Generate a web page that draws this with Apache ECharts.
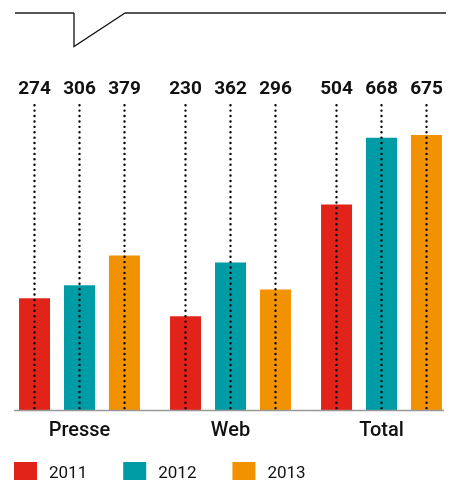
<!DOCTYPE html>
<html>
<head>
<meta charset="utf-8">
<script src="https://cdn.jsdelivr.net/npm/echarts@6/dist/echarts.min.js"></script>
<style>html,body{margin:0;padding:0;background:#fff;overflow:hidden;}#c{width:460px;height:480px;}</style>
</head>
<body>
<div id="c"></div>
<script>
var categories = ['Presse', 'Web', 'Total'];
var years = ['2011', '2012', '2013'];
var values2011 = [274, 230, 504];
var values2012 = [306, 362, 668];
var values2013 = [379, 296, 675];
var colors = ['#E2231A', '#009CA6', '#F39200'];

var allValues = [values2011, values2012, values2013];
var BAR_W = 31, BAR_STEP = 45;

var series = years.map(function (y, i) {
  return {
    name: y, type: 'bar', data: allValues[i], barWidth: BAR_W, barGap: '45%',
    itemStyle: { color: colors[i] }, silent: true, z: 2
  };
});

var labelData = [];
allValues.forEach(function (arr, yi) {
  arr.forEach(function (v, ci) { labelData.push([ci, v, yi]); });
});

series.push({
  type: 'custom', silent: true, z: 5,
  data: labelData,
  encode: { x: 0, y: 1 },
  renderItem: function (params, api) {
    var ci = api.value(0), yi = api.value(2), v = api.value(1);
    var base = api.coord([ci, 0]);
    var x = Math.round(base[0] + (yi - 1) * BAR_STEP - 1) + 0.5;
    var top = api.coord([ci, 748])[1];
    var ly = api.coord([ci, 788])[1];
    return {
      type: 'group',
      children: [
        { type: 'line', shape: { x1: x, y1: top, x2: x, y2: base[1] - 1 },
          style: { stroke: '#000', lineWidth: 2.4, lineDash: [0.01, 5.4], lineCap: 'round' } },
        { type: 'text', x: x, y: ly,
          style: { text: String(v), fill: '#111', fontSize: 19, fontWeight: 'bold',
                   fontFamily: 'Roboto', align: 'center', verticalAlign: 'middle' } }
      ]
    };
  }
});

var chart = echarts.init(document.getElementById('c'), null, { renderer: 'canvas' });
chart.setOption({
  animation: false,
  color: colors,
  grid: { left: 4, width: 453, top: 84, height: 326, containLabel: false },
  xAxis: {
    type: 'category', data: categories,
    axisLine: { show: false }, axisTick: { show: false },
    axisLabel: { color: '#111', fontSize: 20, fontWeight: 500, fontFamily: 'Roboto', margin: 11 }
  },
  yAxis: { type: 'value', min: 0, max: 800, show: false, splitLine: { show: false } },
  legend: {
    data: years, left: 14, top: 462, padding: 0, itemWidth: 23, itemHeight: 23, itemGap: 36,
    icon: 'rect',
    textStyle: { color: '#111', fontSize: 17, fontFamily: 'Roboto', padding: [0, 0, 0, 7] }
  },
  graphic: [
    { type: 'polyline', silent: true,
      shape: { points: [[15, 13], [74, 13]] }, style: { stroke: '#555', lineWidth: 2, fill: null } },
    { type: 'polyline', silent: true,
      shape: { points: [[125, 13], [446, 13]] }, style: { stroke: '#555', lineWidth: 2, fill: null } },
    { type: 'polyline', silent: true,
      shape: { points: [[74, 13], [74, 46.5], [125, 13]] }, style: { stroke: '#111', lineWidth: 1.3, fill: null } },
    { type: 'line', silent: true, z: 10,
      shape: { x1: 14, y1: 410.5, x2: 444, y2: 410.5 }, style: { stroke: '#999', lineWidth: 1.3 } }
  ],
  series: series
});
</script>
</body>
</html>
